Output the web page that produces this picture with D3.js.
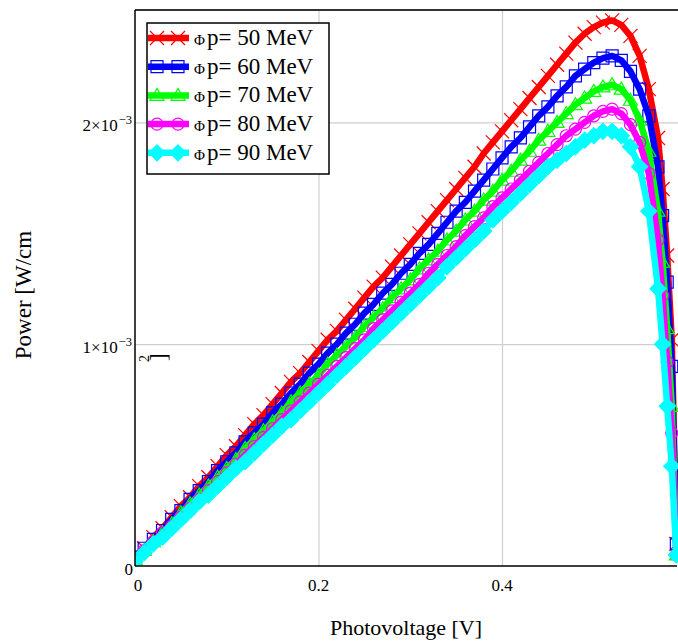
<!DOCTYPE html>
<html>
<head>
<meta charset="utf-8">
<script src="https://cdn.jsdelivr.net/npm/d3@7"></script>
<style>
  body { margin: 0; background: #fff; }
  svg { display: block; font-family: "Liberation Serif", "Times New Roman", serif; }
</style>
</head>
<body>
<div id="chart"></div>
<script>
// photovoltage [V]
const voltage = [
  0.00, 0.01, 0.02, 0.03, 0.04, 0.05, 0.06, 0.07, 0.08, 0.09,
  0.10, 0.11, 0.12, 0.13, 0.14, 0.15, 0.16, 0.17, 0.18, 0.19,
  0.20, 0.21, 0.22, 0.23, 0.24, 0.25, 0.26, 0.27, 0.28, 0.29,
  0.30, 0.31, 0.32, 0.33, 0.34, 0.35, 0.36, 0.37, 0.38, 0.39,
  0.40, 0.41, 0.42, 0.43, 0.44, 0.45, 0.46, 0.47, 0.48, 0.49,
  0.50, 0.51, 0.52, 0.53, 0.54, 0.55, 0.56, 0.57, 0.575, 0.58,
  0.585, 0.59
];

// power, in units of 1e-3 W/cm^2
const p50 = [
  0.04, 0.08, 0.13, 0.17, 0.22, 0.27, 0.31, 0.36, 0.40, 0.45,
  0.50, 0.54, 0.59, 0.64, 0.68, 0.73, 0.78, 0.83, 0.87, 0.92,
  0.97, 1.02, 1.06, 1.11, 1.16, 1.21, 1.26, 1.30, 1.35, 1.40,
  1.45, 1.50, 1.55, 1.60, 1.65, 1.70, 1.75, 1.80, 1.86, 1.91,
  1.96, 2.01, 2.06, 2.11, 2.16, 2.21, 2.26, 2.31, 2.36, 2.40,
  2.43, 2.45, 2.46, 2.44, 2.39, 2.30, 2.15, 1.93, 1.70, 1.40,
  1.02, 0.10
];
const p60 = [
  0.04, 0.08, 0.12, 0.16, 0.21, 0.25, 0.30, 0.34, 0.38, 0.43,
  0.47, 0.51, 0.56, 0.60, 0.64, 0.69, 0.73, 0.78, 0.82, 0.87,
  0.91, 0.96, 1.00, 1.05, 1.09, 1.14, 1.18, 1.23, 1.27, 1.32,
  1.36, 1.41, 1.45, 1.50, 1.55, 1.60, 1.64, 1.69, 1.74, 1.79,
  1.84, 1.89, 1.93, 1.98, 2.03, 2.07, 2.12, 2.16, 2.21, 2.24,
  2.27, 2.29, 2.30, 2.28, 2.23, 2.15, 2.03, 1.80, 1.58, 1.28,
  0.90, 0.10
];
const p70 = [
  0.03, 0.07, 0.11, 0.15, 0.19, 0.24, 0.28, 0.32, 0.36, 0.40,
  0.44, 0.48, 0.53, 0.57, 0.61, 0.65, 0.69, 0.74, 0.78, 0.82,
  0.86, 0.91, 0.95, 0.99, 1.03, 1.08, 1.12, 1.16, 1.21, 1.25,
  1.29, 1.34, 1.38, 1.42, 1.47, 1.51, 1.56, 1.60, 1.65, 1.69,
  1.74, 1.78, 1.83, 1.87, 1.92, 1.96, 2.00, 2.04, 2.08, 2.11,
  2.14, 2.16, 2.17, 2.15, 2.10, 2.01, 1.87, 1.60, 1.37, 1.07,
  0.72, 0.05
];
const p80 = [
  0.03, 0.07, 0.11, 0.15, 0.18, 0.22, 0.26, 0.30, 0.34, 0.38,
  0.42, 0.46, 0.50, 0.54, 0.58, 0.62, 0.66, 0.70, 0.74, 0.78,
  0.82, 0.86, 0.90, 0.94, 0.98, 1.02, 1.07, 1.11, 1.15, 1.19,
  1.23, 1.27, 1.32, 1.36, 1.40, 1.44, 1.49, 1.53, 1.57, 1.62,
  1.66, 1.70, 1.74, 1.78, 1.82, 1.86, 1.90, 1.94, 1.97, 2.00,
  2.03, 2.05, 2.06, 2.04, 1.99, 1.91, 1.77, 1.47, 1.22, 0.92,
  0.60, 0.05
];
const p90 = [
  0.02, 0.06, 0.10, 0.13, 0.17, 0.21, 0.25, 0.29, 0.32, 0.36,
  0.40, 0.44, 0.47, 0.51, 0.55, 0.59, 0.63, 0.66, 0.70, 0.74,
  0.78, 0.82, 0.86, 0.90, 0.94, 0.98, 1.02, 1.06, 1.10, 1.14,
  1.18, 1.22, 1.26, 1.30, 1.35, 1.39, 1.43, 1.47, 1.51, 1.56,
  1.60, 1.64, 1.68, 1.72, 1.76, 1.80, 1.83, 1.86, 1.89, 1.92,
  1.94, 1.96, 1.96, 1.94, 1.89, 1.80, 1.60, 1.25, 1.00, 0.72,
  0.45, 0.05
];

const energies = ["50", "60", "70", "80", "90"];
const seriesPower = [p50, p60, p70, p80, p90];
const colors = ["#ff0000", "#0000ff", "#00ff00", "#ff00ff", "#00ffff"];
const markerTypes = ["x", "square", "triangle", "circle", "diamond"];

const xTicks = [0, 0.2, 0.4];
const xTickLabels = ["0", "0.2", "0.4"];
const yTicks = [0, 1e-3, 2e-3];
const yTickMantissa = ["0", "1\u00d710", "2\u00d710"];
const yTickExponent = ["", "\u22123", "\u22123"];

// layout
var width = 678, height = 642;
var plot = { left: 135, right: 677, top: 10, bottom: 566 };

var svg = d3
  .select("#chart")
  .append("svg")
  .attr("width", width)
  .attr("height", height);

var x = d3.scaleLinear().domain([0, 0.5907]).range([plot.left, plot.right]);
var y = d3.scaleLinear().domain([0, 2.507e-3]).range([plot.bottom, plot.top]);

// grid lines
svg
  .append("g")
  .attr("transform", "translate(0," + plot.bottom + ")")
  .call(d3.axisBottom(x).tickValues(xTicks.slice(1)).tickSize(-(plot.bottom - plot.top)).tickFormat(""))
  .call((g) => g.select(".domain").remove())
  .call((g) => g.selectAll("line").attr("stroke", "#cfcfcf").attr("stroke-width", 1.2));

svg
  .append("g")
  .attr("transform", "translate(" + plot.left + ",0)")
  .call(d3.axisLeft(y).tickValues(yTicks.slice(1)).tickSize(-(width - plot.left)).tickFormat(""))
  .call((g) => g.select(".domain").remove())
  .call((g) => g.selectAll("line").attr("stroke", "#cfcfcf").attr("stroke-width", 1.2));

// curves
svg
  .append("clipPath")
  .attr("id", "clip")
  .append("rect")
  .attr("x", plot.left)
  .attr("y", plot.top)
  .attr("width", width - plot.left)
  .attr("height", plot.bottom - plot.top);

function markerPath(type) {
  if (type == "x") return "M-7,-7L7,7M-7,7L7,-7";
  if (type == "square") return "M-6,-6H6V6H-6Z";
  if (type == "triangle") return "M0,-7L7,5H-7Z";
  if (type == "circle") return "M6,0A6,6 0 1 1 -6,0A6,6 0 1 1 6,0Z";
  return "M0,-8L8,0L0,8L-8,0Z";
}

var line = d3
  .line()
  .x((d) => x(d[0]))
  .y((d) => y(d[1] * 1e-3));

var curves = svg.append("g").attr("clip-path", "url(#clip)");

seriesPower.forEach(function (power, i) {
  var pts = voltage.map((v, j) => [v, power[j]]);
  curves
    .append("path")
    .datum(pts)
    .attr("d", line)
    .attr("fill", "none")
    .attr("stroke", colors[i])
    .attr("stroke-width", 6.5)
    .attr("stroke-linejoin", "round");

  curves
    .append("g")
    .selectAll("path")
    .data(pts)
    .enter()
    .append("path")
    .attr("transform", (d) => "translate(" + x(d[0]) + "," + y(d[1] * 1e-3) + ")")
    .attr("d", markerPath(markerTypes[i]))
    .attr("fill", markerTypes[i] == "diamond" ? colors[i] : "none")
    .attr("stroke", colors[i])
    .attr("stroke-width", 1.2);
});

// frame
svg.append("line")
  .attr("x1", plot.left).attr("x2", width)
  .attr("y1", plot.top).attr("y2", plot.top)
  .attr("stroke", "#333").attr("stroke-width", 2);
svg.append("line")
  .attr("x1", plot.left).attr("x2", plot.left)
  .attr("y1", plot.top).attr("y2", plot.bottom)
  .attr("stroke", "#000").attr("stroke-width", 1.5);
svg.append("line")
  .attr("x1", plot.left).attr("x2", plot.right)
  .attr("y1", plot.bottom).attr("y2", plot.bottom)
  .attr("stroke", "#000").attr("stroke-width", 1.5);

// tick labels
svg
  .append("g")
  .selectAll("text")
  .data(xTicks)
  .enter()
  .append("text")
  .attr("x", (d) => x(d) + (d == 0 ? 3 : 0))
  .attr("y", 591)
  .attr("text-anchor", "middle")
  .attr("font-size", 17)
  .text((d, i) => xTickLabels[i]);

var yLab = svg
  .append("g")
  .selectAll("text")
  .data(yTicks)
  .enter()
  .append("text")
  .attr("x", (d, i) => (i == 0 ? plot.left - 2 : plot.left - 3))
  .attr("y", (d) => y(d) + 9)
  .attr("text-anchor", "end")
  .attr("font-size", 17);
yLab.append("tspan").text((d, i) => yTickMantissa[i]);
yLab
  .append("tspan")
  .attr("font-size", 12.5)
  .attr("dy", -7)
  .attr("dx", 1)
  .text((d, i) => yTickExponent[i]);

// axis titles
svg
  .append("text")
  .attr("x", 406)
  .attr("y", 635)
  .attr("text-anchor", "middle")
  .attr("font-size", 22)
  .text("Photovoltage [V]");

svg
  .append("text")
  .attr("transform", "translate(31,295) rotate(-90)")
  .attr("text-anchor", "middle")
  .attr("font-size", 23)
  .text("Power [W/cm");

// the displaced "2]" of the y title
svg
  .append("text")
  .attr("transform", "translate(149,362) rotate(-90)")
  .attr("font-size", 14)
  .text("2");
svg
  .append("text")
  .attr("transform", "translate(166,361) rotate(-90)")
  .attr("font-size", 23)
  .text("]");

// legend
var legend = svg.append("g");
legend
  .append("rect")
  .attr("x", 147)
  .attr("y", 23)
  .attr("width", 182)
  .attr("height", 151)
  .attr("fill", "#fff")
  .attr("stroke", "#000")
  .attr("stroke-width", 1.5);

energies.forEach(function (e, i) {
  var cy = 38 + i * 28.7;
  legend
    .append("line")
    .attr("x1", 148)
    .attr("x2", 189)
    .attr("y1", cy)
    .attr("y2", cy)
    .attr("stroke", colors[i])
    .attr("stroke-width", 6.5);
  [157, 178].forEach(function (mx) {
    legend
      .append("path")
      .attr("transform", "translate(" + mx + "," + cy + ")")
      .attr("d", markerPath(markerTypes[i]))
      .attr("fill", markerTypes[i] == "diamond" ? colors[i] : "none")
      .attr("stroke", colors[i])
      .attr("stroke-width", 1.2);
  });
  var t = legend
    .append("text")
    .attr("x", 194)
    .attr("y", cy + 7)
    .attr("font-size", 23);
  t.append("tspan").attr("font-size", 15).text("\u03a6");
  t.append("tspan").attr("dx", 2).text("p= " + e + " MeV");
});
</script>
</body>
</html>
